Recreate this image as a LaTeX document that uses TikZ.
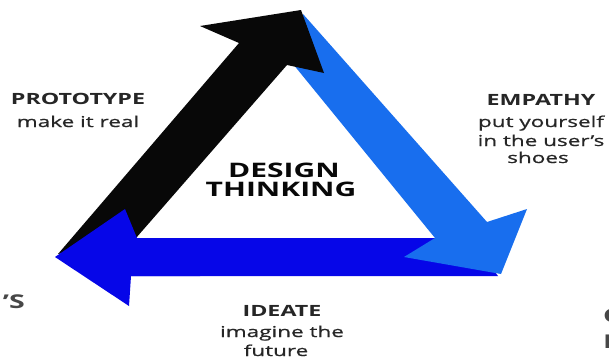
\documentclass[tikz,border=0pt]{standalone}
\usepackage{fontspec}
\setmainfont{Open Sans}[FakeStretch=1.5]
\newfontfamily\subfont{Open Sans}[FakeStretch=1.5,FakeBold=0.8]
\definecolor{blk}{RGB}{8,8,8}
\definecolor{lblue}{RGB}{24,110,238}
\definecolor{dblue}{RGB}{6,6,232}
\definecolor{txt}{RGB}{38,38,38}
\begin{document}
\begin{tikzpicture}[x=1pt,y=-1pt,
  ttl/.style={font=\fontsize{15.5}{18}\selectfont\bfseries, text=txt, anchor=base, inner sep=0pt},
  sub/.style={font=\subfont\fontsize{15}{18}\selectfont, text=txt, anchor=base, inner sep=0pt},
  big/.style={font=\fontsize{20}{22}\selectfont\bfseries, text=blk, anchor=base, inner sep=0pt},
  frag/.style={font=\fontsize{19}{22}\selectfont\bfseries, text=txt!85, inner sep=0pt}]
\fill[white] (0,0) rectangle (609,360);
\path[use as bounding box] (0,0) rectangle (609,360);
% dark blue shaft (under the light blue head)
\fill[dblue] (135,238) -- (470,238) -- (498,276) -- (130,276) -- cycle;
% light blue arrow (right side)
\fill[lblue] (292,40) -- (303,14) -- (487,222) -- (527,209) -- (501,274)
  -- (404,257) -- (435,238) -- (293,64) -- cycle;
% black arrow (left side)
\fill[blk] (301,10) -- (200,26) -- (239,43) -- (58,254) -- (136,238)
  -- (287,65) -- (324,73) -- cycle;
% dark blue head (over the black shaft)
\fill[dblue] (55,257) -- (125,209) -- (137,238) -- (200,238) -- (200,276)
  -- (131,276) -- (129,306) -- cycle;
% texts
\node[ttl] (pt) at (78,104.5) {PROTOTYPE};
\node[sub] (ptsub) at (78,127) {make it real};
\node[ttl] (em) at (541,105) {EMPATHY};
\node[sub] (em1) at (541,127) {put yourself};
\node[sub] (em2) at (541,146) {in the user’s};
\node[sub] (em3) at (538,163) {shoes};
\node[big] (d1) at (284,177) {DESIGN};
\node[big] (d2) at (281,196) {THINKING};
\node[ttl] (id) at (282,316) {IDEATE};
\node[sub] (id1) at (282,337) {imagine the};
\node[sub] (id2) at (276,356) {future};
\node[frag, anchor=base east] (ls) at (25,308) {’S};
\node[frag, anchor=base west] (rc) at (603,322) {C};
\node[frag, anchor=base west] (rd) at (603,348) {D};
\end{tikzpicture}
\end{document}
